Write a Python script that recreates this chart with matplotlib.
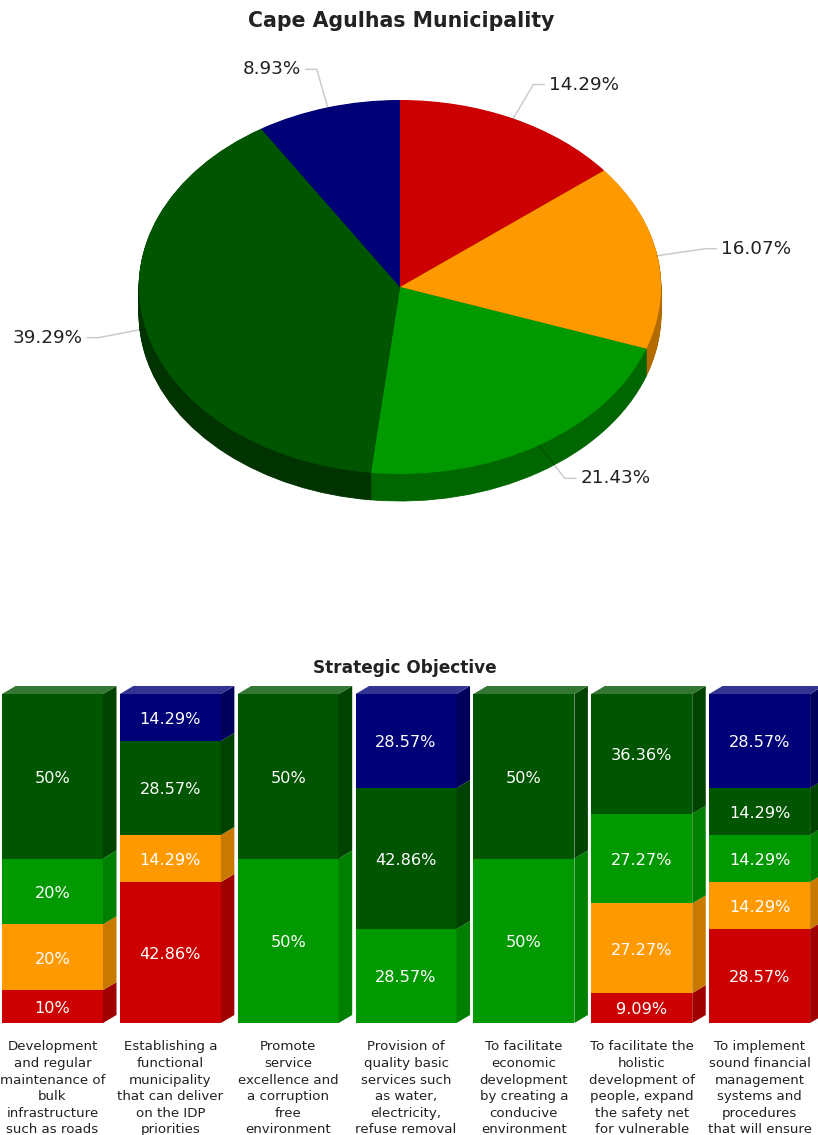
import numpy as np
import matplotlib
matplotlib.use("Agg")
import matplotlib.pyplot as plt
from matplotlib.patches import Polygon

W, H = 818, 1135

# Pie data (clockwise from the top)
pie_values = [14.29, 16.07, 21.43, 39.29, 8.93]
pie_labels = ["14.29%", "16.07%", "21.43%", "39.29%", "8.93%"]

# Stacked bars, one list per series, bottom to top
objectives = [
    "Development\nand regular\nmaintenance of\nbulk\ninfrastructure\nsuch as roads",
    "Establishing a\nfunctional\nmunicipality\nthat can deliver\non the IDP\npriorities",
    "Promote\nservice\nexcellence and\na corruption\nfree\nenvironment",
    "Provision of\nquality basic\nservices such\nas water,\nelectricity,\nrefuse removal",
    "To facilitate\neconomic\ndevelopment\nby creating a\nconducive\nenvironment",
    "To facilitate the\nholistic\ndevelopment of\npeople, expand\nthe safety net\nfor vulnerable",
    "To implement\nsound financial\nmanagement\nsystems and\nprocedures\nthat will ensure",
]
red = [10, 42.86, 0, 0, 0, 9.09, 28.57]
orange = [20, 14.29, 0, 0, 0, 27.27, 14.29]
green = [20, 0, 50, 28.57, 50, 27.27, 14.29]
dark_green = [50, 28.57, 50, 42.86, 50, 36.36, 14.29]
navy = [0, 14.29, 0, 28.57, 0, 0, 28.57]

# front, side and top shades for each series
front_cols = ["#CC0000", "#FF9900", "#009900", "#005500", "#000077"]
side_cols = ["#A00000", "#C87A00", "#007F00", "#004200", "#00005C"]
top_cols = ["#D63333", "#FFAD33", "#33AD33", "#337733", "#333392"]
pie_side_cols = ["#8F0000", "#B36B00", "#006600", "#003300", "#000050"]


def px_axes(fig, left, top, right, bottom):
    # axes placed by pixel box of the figure
    ax = fig.add_axes([left / W, 1 - bottom / H, (right - left) / W, (bottom - top) / H])
    ax.axis("off")
    return ax


fig = plt.figure(figsize=(W / 100, H / 100), dpi=100, facecolor="white")
plt.rcParams["font.family"] = "DejaVu Sans"

# ---- pie ----
cx, cy, rx, ry, depth = 400, 287, 261, 187, 27
ax_pie = px_axes(fig, 0, 0, W, 640)
for d in np.arange(depth, 0, -1):
    wedges, _ = ax_pie.pie(pie_values, colors=pie_side_cols, startangle=90, counterclock=False,
                           center=(0, -d / ry), radius=1, normalize=True, frame=False)
    for w in wedges:
        w.set_edgecolor(w.get_facecolor())
        w.set_linewidth(0.6)
ax_pie.pie(pie_values, colors=front_cols, startangle=90, counterclock=False,
           center=(0, 0), radius=1, normalize=True, frame=False)
ax_pie.set_aspect("auto")
ax_pie.set_xlim(-cx / rx, (W - cx) / rx)
ax_pie.set_ylim(-(640 - cy) / ry, cy / ry)
ax_pie.axis("off")

# overlay in pixels for title, leader lines and pie labels
ov = px_axes(fig, 0, 0, W, H)
ov.set_xlim(0, W)
ov.set_ylim(H, 0)
ov.patch.set_alpha(0)
ov.set_zorder(5)
ov.text(401, 21, "Cape Agulhas Municipality", ha="center", va="center",
        fontsize=14.8, fontweight="bold", color="#222222")
ov.text(404.5, 668, "Strategic Objective", ha="center", va="center",
        fontsize=12.2, fontweight="bold", color="#222222")

# elbow offset from the slice edge, stub direction
elbows = [(20, -34, 1), (48, -7, 1), (26, 33, 1), (-47, 9, -1), (-11, -38, -1)]
mids = (np.cumsum(pie_values) - np.array(pie_values) / 2) / sum(pie_values) * 2 * np.pi
for mid, lab, (ex, ey, side) in zip(mids, pie_labels, elbows):
    ax0 = cx + rx * np.sin(mid)
    ay0 = cy - ry * np.cos(mid)
    xs = [ax0, ax0 + ex, ax0 + ex + side * 11]
    ys = [ay0, ay0 + ey, ay0 + ey]
    ov.plot(xs, ys, color="black", alpha=0.2, lw=1.1)
    ov.text(xs[-1] + side * 5, ys[-1], lab, ha="left" if side > 0 else "right", va="center",
            fontsize=13.2, color="#222222")

# ---- stacked bars ----
bar_top, bar_bottom = 694, 1023
step = 117.85
ax_bar = px_axes(fig, 0, 660, W, bar_bottom)
x = np.arange(len(objectives))
y_per_px = 100 / (bar_bottom - bar_top)
ax_bar.set_xlim(-52.5 / step, (W - 52.5) / step)
ax_bar.set_ylim(0, (bar_bottom - 660) * y_per_px)
ax_bar.axis("on")
for s in ax_bar.spines.values():
    s.set_visible(False)
ax_bar.set_yticks([])
ax_bar.patch.set_alpha(0)

width = 101 / step
dx = 13.5 / step
dy = 8 * y_per_px
series = [red, orange, green, dark_green, navy]
bottoms = np.zeros(len(x))
tops = np.sum(series, axis=0)
for vals, fc, sc, tc in zip(series, front_cols, side_cols, top_cols):
    vals = np.array(vals, dtype=float)
    ax_bar.bar(x, vals, width, bottom=bottoms, color=fc, linewidth=0, zorder=2)
    for xi, v, b, t in zip(x, vals, bottoms, tops):
        if v == 0:
            continue
        xr = xi + width / 2
        ax_bar.add_patch(Polygon([(xr, b), (xr + dx, b + dy), (xr + dx, b + v + dy), (xr, b + v)],
                                 closed=True, fc=sc, ec="none", zorder=2))
        if abs(b + v - t) < 0.05:
            xl = xi - width / 2
            ax_bar.add_patch(Polygon([(xl, t), (xl + dx, t + dy), (xr + dx, t + dy), (xr, t)],
                                     closed=True, fc=tc, ec="none", zorder=2))
        ax_bar.text(xi, b + v / 2 - 1.8 * y_per_px, f"{v:g}%", ha="center", va="center",
                    color="white", fontsize=11.6, zorder=3)
    bottoms = bottoms + vals

ax_bar.set_xticks(x)
ax_bar.set_xticklabels(objectives, fontsize=9.6, color="#222222", linespacing=1.36, clip_on=False)
ax_bar.tick_params(axis="x", length=0, pad=12.5)

fig.savefig("out.png", dpi=100)
